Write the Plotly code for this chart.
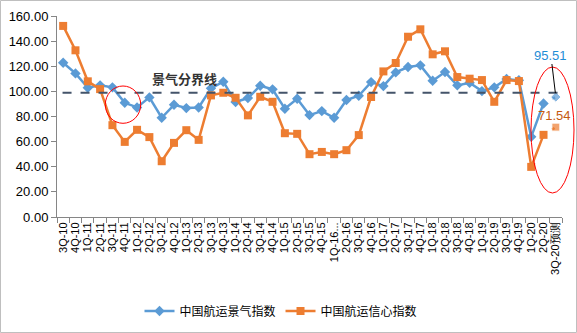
import plotly.graph_objects as go

W, H = 577, 333
ML, MR, MT, MB = 57, 15, 16, 116

categories = ["3Q-10", "4Q-10",
              "1Q-11", "2Q-11", "3Q-11", "4Q-11",
              "1Q-12", "2Q-12", "3Q-12", "4Q-12",
              "1Q-13", "2Q-13", "3Q-13", "4Q-13",
              "1Q-14", "2Q-14", "3Q-14", "4Q-14",
              "1Q-15", "2Q-15", "3Q-15", "4Q-15",
              "1Q-16...", "2Q-16", "3Q-16", "4Q-16",
              "1Q-17", "2Q-17", "3Q-17", "4Q-17",
              "1Q-18", "2Q-18", "3Q-18", "4Q-18",
              "1Q-19", "2Q-19", "3Q-19", "4Q-19",
              "1Q-20", "2Q-20", "3Q-20预测"]

prosperity = [122.8, 114.3, 102.9, 104.8, 103.2, 90.9, 87.2, 95.2, 79.0, 89.3,
              86.7, 87.2, 102.4, 107.7, 91.5, 94.7, 104.5, 101.6, 86.2, 94.1,
              81.1, 84.3, 79.0, 93.1, 96.5, 107.4, 104.2, 115.1, 119.4, 120.7,
              108.5, 115.4, 104.8, 106.9, 100.2, 103.2, 109.8, 108.8, 63.8, 90.4,
              95.51]

confidence = [152.1, 132.7, 108.0, 101.8, 73.1, 59.8, 69.4, 63.6, 44.4, 59.0,
              69.1, 61.4, 96.8, 98.9, 94.9, 80.9, 95.7, 91.7, 66.7, 66.2,
              50.0, 51.8, 50.0, 53.2, 65.2, 95.5, 115.9, 122.6, 143.5, 149.4,
              129.5, 131.9, 111.4, 110.1, 109.0, 91.7, 109.0, 108.2, 39.9, 65.4,
              71.54]

threshold = 98.9
y_ticks = [0, 20, 40, 60, 80, 100, 120, 140, 160]

blue = "#5B9BD5"
orange = "#ED7D31"
axis_col = "#868686"

pw = W - ML - MR
ph = H - MT - MB
def px_x(p):
    return (p - ML) / pw
def px_y(p):
    return (H - MB - p) / ph

fig = go.Figure()

# forecast segments (dotted), drawn first
for vals, col, sym in [(prosperity, blue, "diamond"), (confidence, orange, "square")]:
    fig.add_trace(go.Scatter(
        x=categories[-2:], y=vals[-2:], mode="lines+markers", showlegend=False,
        line=dict(color=col, width=2.5, dash="3px,7px"),
        marker=dict(symbol=sym, size=[0, 8], color=col),
        hoverinfo="skip",
    ))

fig.add_trace(go.Scatter(
    x=categories[:-1], y=prosperity[:-1], name="中国航运景气指数", mode="lines+markers",
    line=dict(color=blue, width=2.5),
    marker=dict(symbol="diamond", size=8, color=blue),
))
fig.add_trace(go.Scatter(
    x=categories[:-1], y=confidence[:-1], name="中国航运信心指数", mode="lines+markers",
    line=dict(color=orange, width=2.5),
    marker=dict(symbol="square", size=8, color=orange),
))

shapes = [
    dict(type="line", xref="x", yref="y", x0=-0.05, x1=40.3, y0=threshold, y1=threshold,
         line=dict(color="#44546A", width=2, dash="dash"), layer="above"),
    dict(type="circle", xref="paper", yref="paper",
         x0=px_x(105.3), x1=px_x(140.7), y0=px_y(123.3), y1=px_y(86),
         line=dict(color="#FF0000", width=1)),
    dict(type="circle", xref="paper", yref="paper",
         x0=px_x(531), x1=px_x(574), y0=px_y(193), y1=px_y(67),
         line=dict(color="#FF0000", width=1)),
    dict(type="rect", xref="paper", yref="paper",
         x0=px_x(0.5), x1=px_x(576.5), y0=px_y(332.5), y1=px_y(0.5),
         line=dict(color="#BFBFBF", width=1), layer="below"),
]

annotations = [
    dict(x=px_x(184), y=px_y(78), xref="paper", yref="paper", text="<b>景气分界线</b>",
         xanchor="center", yanchor="middle",
         showarrow=False, font=dict(family="Noto Sans CJK SC", size=13, color="#333333")),
    dict(x=categories[-1], y=prosperity[-1], xref="x", yref="y", text=f"{prosperity[-1]:.2f}",
         showarrow=True, arrowhead=0, arrowwidth=1, arrowcolor="#000000",
         ax=-5, ay=-42, standoff=4,
         font=dict(family="Liberation Sans", size=13, color="#1F8DD6")),
    dict(x=categories[-1], y=confidence[-1], xref="x", yref="y", text=f"{confidence[-1]:.2f}",
         showarrow=False, xshift=-1, yshift=12,
         font=dict(family="Liberation Sans", size=13, color="#C55A11")),
]

fig.update_layout(
    width=W, height=H,
    margin=dict(l=ML, r=MR, t=MT, b=MB, autoexpand=False),
    paper_bgcolor="white", plot_bgcolor="white",
    showlegend=True,
    legend=dict(orientation="h", x=px_x(281), xanchor="center", y=px_y(311), yanchor="middle",
                font=dict(family="Noto Sans CJK SC", size=12, color="#000000"),
                itemwidth=30, tracegroupgap=0),
    shapes=shapes, annotations=annotations,
    font=dict(family="Liberation Sans", color="#000000"),
)
fig.update_xaxes(
    type="category", categoryorder="array", categoryarray=categories,
    tickangle=-90, tickson="boundaries", automargin=False,
    tickmode="array", tickvals=categories, ticktext=categories,
    ticks="outside", ticklen=5, tickcolor=axis_col,
    showline=True, linecolor=axis_col, linewidth=1,
    showgrid=False, tickfont=dict(family="Liberation Sans", size=11, color="#000000"),
    range=[-0.5, 40.5],
)
fig.update_yaxes(
    range=[0, 160], tickvals=y_ticks, ticktext=[f"{v:.2f}" for v in y_ticks],
    automargin=False,
    ticks="outside", ticklen=5, tickcolor=axis_col,
    showline=True, linecolor=axis_col, linewidth=1,
    showgrid=False, zeroline=False,
    tickfont=dict(family="Liberation Sans", size=13, color="#000000"),
)

fig.write_html("out.html")
